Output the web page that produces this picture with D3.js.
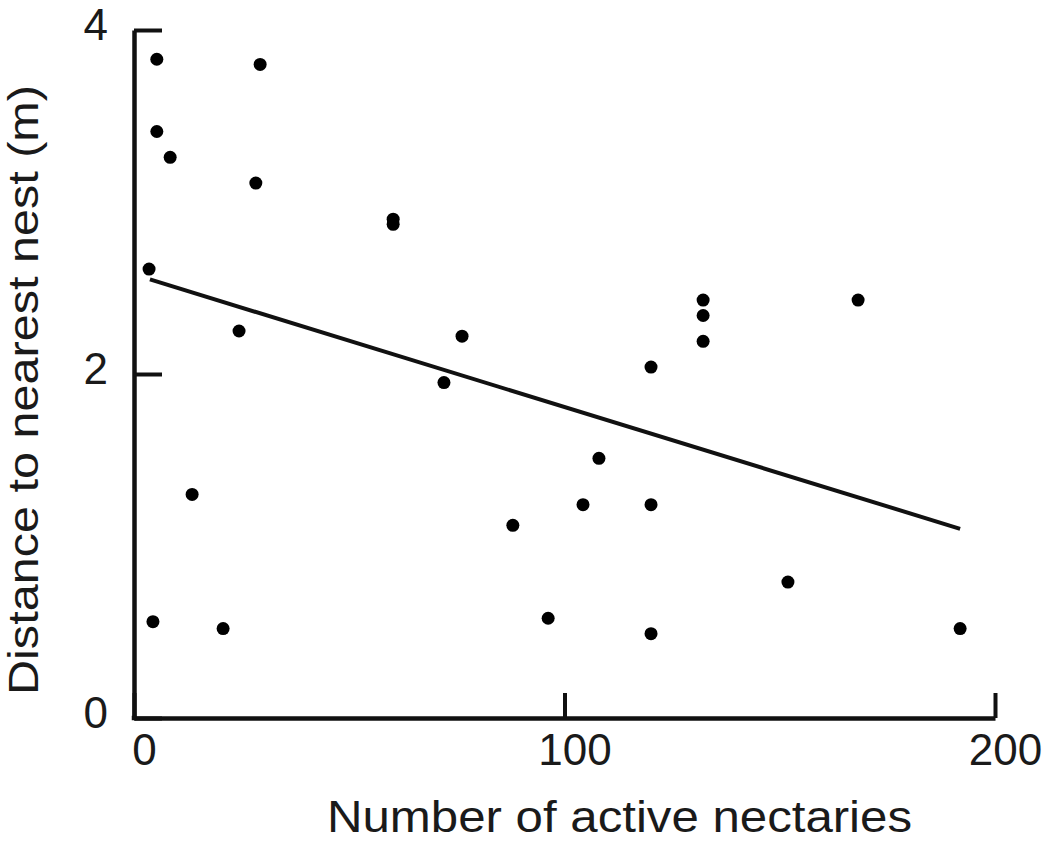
<!DOCTYPE html>
<html>
<head>
<meta charset="utf-8">
<script src="https://cdn.jsdelivr.net/npm/d3@7"></script>
<style>
  body { margin: 0; background: #fff; }
  text { font-family: "Liberation Sans", Arial, sans-serif; fill: #1a1a1a; }
</style>
</head>
<body>
<script>
// Data
const nectaries = [5.3, 5.3, 8.4, 29.3, 28.3, 60.2, 60.2, 3.5, 24.4, 76.2, 72.0, 120.1, 108.0,
  132.2, 132.2, 132.2, 168.2, 13.5, 88.0, 104.3, 120.1, 4.4, 20.7, 96.2, 120.1, 151.9, 191.9];
const distance = [3.83, 3.41, 3.26, 3.80, 3.11, 2.90, 2.87, 2.61, 2.25, 2.22, 1.95, 2.04, 1.51,
  2.43, 2.34, 2.19, 2.43, 1.30, 1.12, 1.24, 1.24, 0.56, 0.52, 0.58, 0.49, 0.79, 0.52];

// fitted line end points
const fitX = [3.7, 191.9];
const fitY = [2.55, 1.10];

const xTicks = [0, 100, 200];
const yTicks = [0, 2, 4];

const xLabel = "Number of active nectaries";
const yLabel = "Distance to nearest nest (m)";

//////////////////////////////////////////////////

const W = 1050, H = 843;
const margin = { top: 30, right: 55, bottom: 125, left: 134 };
const width = W - margin.left - margin.right;
const height = H - margin.top - margin.bottom;

const xScale = d3.scaleLinear().domain([0, 200]).range([0, width]);
const yScale = d3.scaleLinear().domain([0, 4]).range([height, 0]);

const svg = d3.select('body').append('svg')
    .attr('width', W)
    .attr('height', H);

const g = svg.append('g')
    .attr('transform', 'translate(' + margin.left + ',' + margin.top + ')');

// Axes - ticks point into the plot
const xAxis = d3.axisBottom(xScale)
    .tickValues(xTicks)
    .tickSize(-25)
    .tickSizeOuter(0)
    .tickPadding(20)
    .tickFormat(d3.format('d'));

const yAxis = d3.axisLeft(yScale)
    .tickValues(yTicks)
    .tickSize(-28)
    .tickSizeOuter(0)
    .tickPadding(26)
    .tickFormat(d3.format('d'));

const gx = g.append('g')
    .attr('transform', 'translate(0,' + height + ')')
    .call(xAxis);

const gy = g.append('g').call(yAxis);

[gx, gy].forEach(function(a){
  a.select('.domain').attr('stroke', '#111').attr('stroke-width', 4.5);
  a.selectAll('.tick line').attr('stroke', '#111').attr('stroke-width', 4);
  a.selectAll('.tick text')
    .attr('font-size', 44)
    .style('font-family', '"Liberation Sans", Arial, sans-serif')
    .attr('fill', '#1a1a1a');
});
gx.selectAll('.tick text').attr('dx', 10).attr('dy', '0.62em');
gy.selectAll('.tick text').attr('dy', '0.22em');

// square off the corner
g.append('rect')
    .attr('x', -2.25).attr('y', height - 2.25)
    .attr('width', 4.5).attr('height', 4.5)
    .attr('fill', '#111');

// Regression line
const line = d3.line()
    .x(function(d){ return xScale(d[0]); })
    .y(function(d){ return yScale(d[1]); });

g.append('path')
    .datum(d3.zip(fitX, fitY))
    .attr('d', line)
    .attr('fill', 'none')
    .attr('stroke', '#111')
    .attr('stroke-width', 4);

// Points
g.selectAll('circle.dot')
    .data(d3.zip(nectaries, distance))
    .enter().append('circle')
    .attr('class', 'dot')
    .attr('cx', function(d){ return xScale(d[0]); })
    .attr('cy', function(d){ return yScale(d[1]); })
    .attr('r', 6.5)
    .attr('fill', '#000');

// Axis titles
svg.append('text')
    .attr('x', 327)
    .attr('y', 832)
    .attr('font-size', 44)
    .attr('textLength', 585)
    .attr('lengthAdjust', 'spacingAndGlyphs')
    .text(xLabel);

svg.append('text')
    .attr('transform', 'translate(38,695) rotate(-90)')
    .attr('font-size', 43)
    .attr('textLength', 610)
    .attr('lengthAdjust', 'spacingAndGlyphs')
    .text(yLabel);
</script>
</body>
</html>
